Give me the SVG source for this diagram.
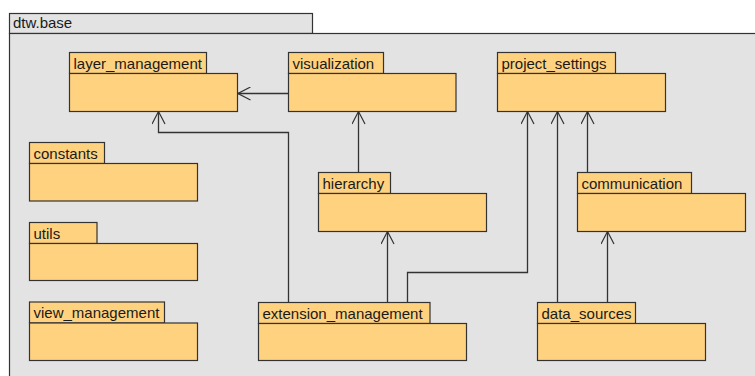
<svg xmlns="http://www.w3.org/2000/svg" width="755" height="376" viewBox="0 0 755 376">
  <style>
    .pkg-tab, .pkg-body { fill: #ffd280; stroke: #333333; stroke-width: 1.2; }
    .outer { fill: #e3e3e3; stroke: #333333; stroke-width: 1.2; }
    .label { font-family: "Liberation Sans", Arial, sans-serif; font-size: 15px; fill: #1a1a1a; }
    .edge { fill: none; stroke: #333333; stroke-width: 1.3; marker-end: url(#open-arrow); }
  </style>
  <defs>
    <marker id="open-arrow" viewBox="0 0 14 14" refX="13" refY="7" markerWidth="14" markerHeight="14" markerUnits="userSpaceOnUse" orient="auto">
      <path d="M0.5,0.5 L13,7 L0.5,13.5" fill="none" stroke="#333333" stroke-width="1.2"/>
    </marker>
  </defs>

  <rect width="755" height="376" fill="#ffffff"/>

  <!-- enclosing package dtw.base -->
  <g id="dtw.base">
    <rect class="outer" x="9.5" y="13.5" width="303" height="20"/>
    <rect class="outer" x="9.5" y="33.5" width="760" height="360"/>
    <text class="label" x="13" y="28">dtw.base</text>
  </g>

  <!-- connectors -->
  <g id="connectors">
    <path class="edge" d="M288,93.5 L238,93.5"/>
    <path class="edge" d="M358.5,172.5 L358.5,111.5"/>
    <path class="edge" d="M288.5,302.5 L288.5,132.5 L158.5,132.5 L158.5,111.5"/>
    <path class="edge" d="M387.5,302.5 L387.5,231.5"/>
    <path class="edge" d="M407.5,302.5 L407.5,272.5 L527.5,272.5 L527.5,111.5"/>
    <path class="edge" d="M557.5,302.5 L557.5,111.5"/>
    <path class="edge" d="M587.5,172.5 L587.5,111.5"/>
    <path class="edge" d="M607.5,302.5 L607.5,231.5"/>
  </g>

  <g id="layer_management">
    <rect class="pkg-tab" x="69.5" y="52.5" width="137" height="21"/>
    <rect class="pkg-body" x="69.5" y="73.5" width="168" height="38"/>
    <text class="label" x="73.5" y="68.5">layer_management</text>
  </g>

  <g id="visualization">
    <rect class="pkg-tab" x="288.5" y="52.5" width="95" height="21"/>
    <rect class="pkg-body" x="288.5" y="73.5" width="167.5" height="38"/>
    <text class="label" x="292.5" y="68.5">visualization</text>
  </g>

  <g id="project_settings">
    <rect class="pkg-tab" x="497.5" y="52.5" width="118" height="21"/>
    <rect class="pkg-body" x="497.5" y="73.5" width="168" height="38"/>
    <text class="label" x="501.5" y="68.5">project_settings</text>
  </g>

  <g id="constants">
    <rect class="pkg-tab" x="29.5" y="142.5" width="75" height="21"/>
    <rect class="pkg-body" x="29.5" y="163.5" width="168" height="37.5"/>
    <text class="label" x="33.5" y="158.5">constants</text>
  </g>

  <g id="utils">
    <rect class="pkg-tab" x="29.5" y="222.5" width="67.5" height="21"/>
    <rect class="pkg-body" x="29.5" y="243.5" width="168" height="37"/>
    <text class="label" x="33.5" y="238.5">utils</text>
  </g>

  <g id="view_management">
    <rect class="pkg-tab" x="29.5" y="302" width="135" height="21"/>
    <rect class="pkg-body" x="29.5" y="323" width="168" height="37.5"/>
    <text class="label" x="33.5" y="318">view_management</text>
  </g>

  <g id="hierarchy">
    <rect class="pkg-tab" x="318.5" y="172.5" width="72" height="21"/>
    <rect class="pkg-body" x="318.5" y="193.5" width="168" height="38"/>
    <text class="label" x="322.5" y="188.5">hierarchy</text>
  </g>

  <g id="communication">
    <rect class="pkg-tab" x="577.5" y="172.5" width="114" height="21"/>
    <rect class="pkg-body" x="577.5" y="193.5" width="168" height="38"/>
    <text class="label" x="581.5" y="188.5">communication</text>
  </g>

  <g id="extension_management">
    <rect class="pkg-tab" x="258.5" y="302.5" width="171.5" height="21"/>
    <rect class="pkg-body" x="258.5" y="323.5" width="208" height="37"/>
    <text class="label" x="262.5" y="318.5">extension_management</text>
  </g>

  <g id="data_sources">
    <rect class="pkg-tab" x="537.5" y="302.5" width="98" height="21"/>
    <rect class="pkg-body" x="537.5" y="323.5" width="168" height="37"/>
    <text class="label" x="541.5" y="318.5">data_sources</text>
  </g>
</svg>
